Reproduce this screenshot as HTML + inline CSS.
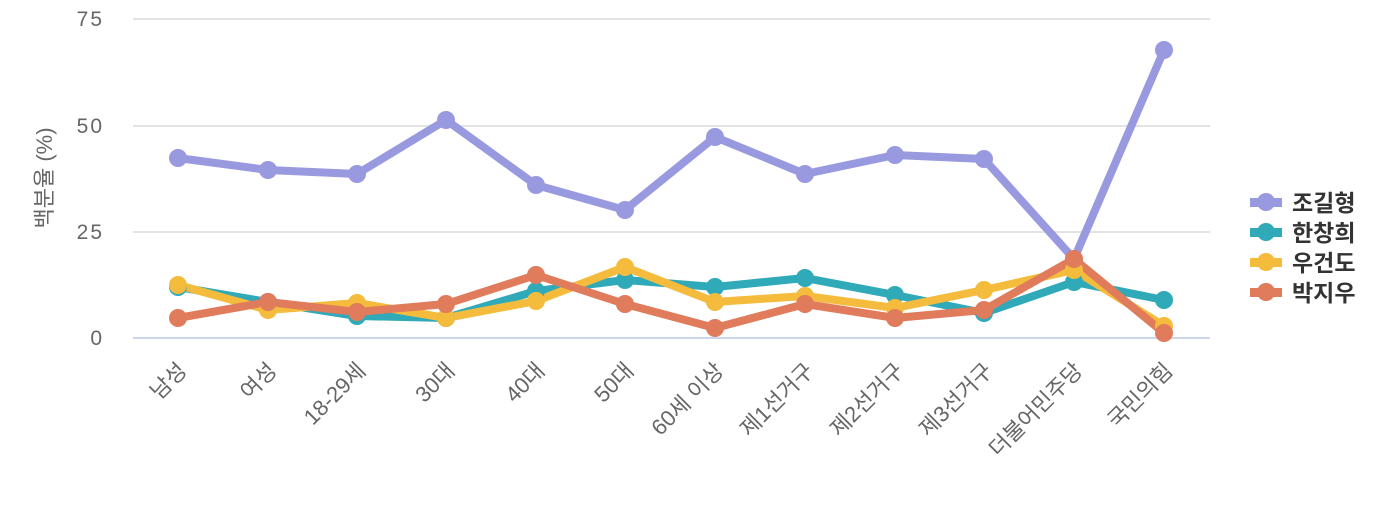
<!DOCTYPE html>
<html><head><meta charset="utf-8"><style>
body{margin:0;background:#fff;width:1400px;height:500px;overflow:hidden}
text{font-family:"Liberation Sans","Noto Sans CJK KR",sans-serif}
</style></head><body>
<svg width="1400" height="500" xmlns="http://www.w3.org/2000/svg">
<g stroke="#e3e3e3" stroke-width="2">
<line x1="133" y1="19" x2="1210" y2="19"/><line x1="133" y1="126" x2="1210" y2="126"/><line x1="133" y1="232" x2="1210" y2="232"/>
</g>
<line x1="133" y1="338" x2="1210" y2="338" stroke="#ccd6eb" stroke-width="2"/>
<g fill="#666" font-size="21" text-anchor="end" letter-spacing="2">
<text x="104" y="26">75</text><text x="104" y="133">50</text><text x="104" y="239">25</text><text x="104" y="345">0</text>
</g>
<text transform="translate(52,178) rotate(-90)" fill="#666" font-size="22" text-anchor="middle">백분율 (%)</text>
<g fill="#666" font-size="22" text-anchor="end">
<text transform="translate(188,372) rotate(-45)">남성</text>
<text transform="translate(278,372) rotate(-45)">여성</text>
<text transform="translate(367,372) rotate(-45)">18-29세</text>
<text transform="translate(456,372) rotate(-45)">30대</text>
<text transform="translate(546,372) rotate(-45)">40대</text>
<text transform="translate(635,372) rotate(-45)">50대</text>
<text transform="translate(725,372) rotate(-45)">60세 이상</text>
<text transform="translate(815,372) rotate(-45)">제1선거구</text>
<text transform="translate(905,372) rotate(-45)">제2선거구</text>
<text transform="translate(994,372) rotate(-45)">제3선거구</text>
<text transform="translate(1084,372) rotate(-45)">더불어민주당</text>
<text transform="translate(1174,372) rotate(-45)">국민의힘</text>
</g>
<g fill="none" stroke-width="8" stroke-linejoin="round" stroke-linecap="round">
<polyline stroke="#9999e0" points="178,158 268,170 357,174 446,120 536,185 625,210 715,137 805,174 895,155 984,159 1074,259 1164,50"/>
<polyline stroke="#30a9b8" points="178,287 268,302 357,316 446,318 536,291 625,280 715,287 805,278 895,295 984,313 1074,282 1164,300"/>
<polyline stroke="#f5bb3c" points="178,285 268,310 357,303 446,318 536,301 625,267 715,302 805,296 895,308 984,290 1074,270 1164,326"/>
<polyline stroke="#e07b5b" points="178,318 268,302 357,312 446,304 536,275 625,304 715,328 805,304 895,318 984,310 1074,259 1164,333"/>
</g>
<g fill="#9999e0"><circle cx="178" cy="158" r="9"/><circle cx="268" cy="170" r="9"/><circle cx="357" cy="174" r="9"/><circle cx="446" cy="120" r="9"/><circle cx="536" cy="185" r="9"/><circle cx="625" cy="210" r="9"/><circle cx="715" cy="137" r="9"/><circle cx="805" cy="174" r="9"/><circle cx="895" cy="155" r="9"/><circle cx="984" cy="159" r="9"/><circle cx="1074" cy="259" r="9"/><circle cx="1164" cy="50" r="9"/></g>
<g fill="#30a9b8"><circle cx="178" cy="287" r="9"/><circle cx="268" cy="302" r="9"/><circle cx="357" cy="316" r="9"/><circle cx="446" cy="318" r="9"/><circle cx="536" cy="291" r="9"/><circle cx="625" cy="280" r="9"/><circle cx="715" cy="287" r="9"/><circle cx="805" cy="278" r="9"/><circle cx="895" cy="295" r="9"/><circle cx="984" cy="313" r="9"/><circle cx="1074" cy="282" r="9"/><circle cx="1164" cy="300" r="9"/></g>
<g fill="#f5bb3c"><circle cx="178" cy="285" r="9"/><circle cx="268" cy="310" r="9"/><circle cx="357" cy="303" r="9"/><circle cx="446" cy="318" r="9"/><circle cx="536" cy="301" r="9"/><circle cx="625" cy="267" r="9"/><circle cx="715" cy="302" r="9"/><circle cx="805" cy="296" r="9"/><circle cx="895" cy="308" r="9"/><circle cx="984" cy="290" r="9"/><circle cx="1074" cy="270" r="9"/><circle cx="1164" cy="326" r="9"/></g>
<g fill="#e07b5b"><circle cx="178" cy="318" r="9"/><circle cx="268" cy="302" r="9"/><circle cx="357" cy="312" r="9"/><circle cx="446" cy="304" r="9"/><circle cx="536" cy="275" r="9"/><circle cx="625" cy="304" r="9"/><circle cx="715" cy="328" r="9"/><circle cx="805" cy="304" r="9"/><circle cx="895" cy="318" r="9"/><circle cx="984" cy="310" r="9"/><circle cx="1074" cy="259" r="9"/><circle cx="1164" cy="333" r="9"/></g>
<g font-size="23" font-weight="bold" fill="#333">
<rect x="1250" y="198" width="32" height="9" fill="#9999e0"/><circle cx="1266" cy="202" r="9" fill="#9999e0"/><text x="1292" y="211">조길형</text>
<rect x="1250" y="228" width="32" height="9" fill="#30a9b8"/><circle cx="1266" cy="232" r="9" fill="#30a9b8"/><text x="1292" y="241">한창희</text>
<rect x="1250" y="258" width="32" height="9" fill="#f5bb3c"/><circle cx="1266" cy="262" r="9" fill="#f5bb3c"/><text x="1292" y="271">우건도</text>
<rect x="1250" y="288" width="32" height="9" fill="#e07b5b"/><circle cx="1266" cy="292" r="9" fill="#e07b5b"/><text x="1292" y="301">박지우</text>
</g>
</svg>
</body></html>
